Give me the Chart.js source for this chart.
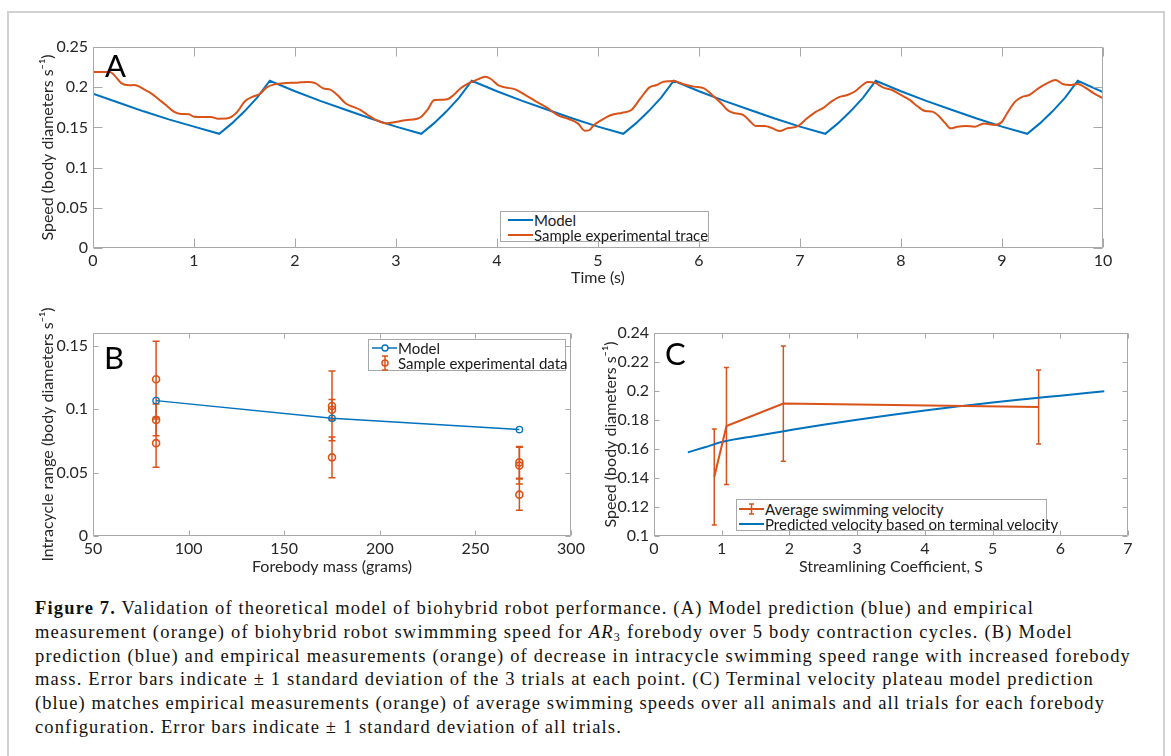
<!DOCTYPE html>
<html><head><meta charset="utf-8">
<script src="https://cdn.jsdelivr.net/npm/chart.js@4.4.1/dist/chart.umd.min.js"></script>
<style>
body{margin:0;width:1171px;height:756px;background:#fff;overflow:hidden;position:relative;font-family:Lato,"Open Sans",sans-serif;}
#frame{position:absolute;left:7px;top:11px;width:1158px;height:800px;border:2px solid #d2d2d2;box-sizing:border-box}
.cw{position:absolute}
.cw canvas{display:block}
.panel{position:absolute;font-size:31px;line-height:31px;color:#000;font-family:Lato,sans-serif}
.legend{position:absolute;border:1px solid #a8a8a8;background:#fff;font-size:15px;color:#1a1a1a;box-sizing:border-box}
.legend .row{position:absolute;left:0;height:16px;line-height:16px;white-space:nowrap}
.legend svg{position:absolute;top:0}
.legend span{position:absolute;top:0}
.caption{position:absolute;left:35px;top:597px;font-family:"Liberation Serif",serif;font-size:18.5px;line-height:23.8px;color:#111}
.caption div{white-space:nowrap}
.caption .ln{display:inline-block}
.sub3{font-size:0.65em;position:relative;top:0.25em;line-height:0}
</style>
</head><body>
<div id="frame"></div>

<div class="cw" style="left:0;top:0"><canvas id="cA" width="1171" height="295"></canvas></div>
<div class="cw" style="left:0;top:300px"><canvas id="cB" width="600" height="290"></canvas></div>
<div class="cw" style="left:600px;top:300px"><canvas id="cC" width="571" height="290"></canvas></div>

<div class="panel" style="left:105px;top:50px">A</div>
<div class="panel" style="left:104px;top:342px">B</div>
<div class="panel" style="left:665px;top:338px">C</div>

<div class="legend" style="left:500px;top:211px;width:209px;height:31px">
  <div class="row" style="top:0"><svg style="left:6px" width="27" height="16"><line x1="1" y1="8" x2="26" y2="8" stroke="#0072BD" stroke-width="2"/></svg><span style="left:33px">Model</span></div>
  <div class="row" style="top:14.5px"><svg style="left:6px" width="27" height="16"><line x1="1" y1="8" x2="26" y2="8" stroke="#D95319" stroke-width="2"/></svg><span style="left:33px">Sample experimental trace</span></div>
</div>

<div class="legend" style="left:368px;top:339px;width:198px;height:32px">
  <div class="row" style="top:0"><svg style="left:2px" width="27" height="16"><line x1="1" y1="8" x2="26" y2="8" stroke="#0072BD" stroke-width="1.5"/><circle cx="14" cy="8" r="3" fill="#fff" stroke="#0072BD" stroke-width="1.3"/></svg><span style="left:29px">Model</span></div>
  <div class="row" style="top:14.5px"><svg style="left:2px" width="27" height="16"><line x1="14" y1="1" x2="14" y2="15" stroke="#D95319" stroke-width="1.5"/><line x1="11" y1="1" x2="17" y2="1" stroke="#D95319" stroke-width="1.5"/><line x1="11" y1="15" x2="17" y2="15" stroke="#D95319" stroke-width="1.5"/><circle cx="14" cy="8" r="3" fill="none" stroke="#D95319" stroke-width="1.5"/></svg><span style="left:29px">Sample experimental data</span></div>
</div>

<div class="legend" style="left:736px;top:499px;width:311px;height:32px">
  <div class="row" style="top:1px"><svg style="left:1px" width="27" height="16"><line x1="1" y1="8" x2="26" y2="8" stroke="#D95319" stroke-width="2"/><line x1="13.5" y1="3" x2="13.5" y2="13" stroke="#D95319" stroke-width="1.5"/><line x1="11" y1="3" x2="16" y2="3" stroke="#D95319" stroke-width="1.5"/><line x1="11" y1="13" x2="16" y2="13" stroke="#D95319" stroke-width="1.5"/></svg><span style="left:28px">Average swimming velocity</span></div>
  <div class="row" style="top:15.5px"><svg style="left:1px" width="27" height="16"><line x1="1" y1="8" x2="26" y2="8" stroke="#0072BD" stroke-width="2"/></svg><span style="left:28px">Predicted velocity based on terminal velocity</span></div>
</div>

<div class="caption">
<div><span class="ln" data-w="999"><b>Figure 7.</b> Validation of theoretical model of biohybrid robot performance. (A) Model prediction (blue) and empirical</span></div>
<div><span class="ln" data-w="1038">measurement (orange) of biohybrid robot swimmming speed for <i>AR</i><span class="sub3">3</span> forebody over 5 body contraction cycles. (B) Model</span></div>
<div><span class="ln" data-w="1096">prediction (blue) and empirical measurements (orange) of decrease in intracycle swimming speed range with increased forebody</span></div>
<div><span class="ln" data-w="1059">mass. Error bars indicate ± 1 standard deviation of the 3 trials at each point. (C) Terminal velocity plateau model prediction</span></div>
<div><span class="ln" data-w="1070">(blue) matches empirical measurements (orange) of average swimming speeds over all animals and all trials for each forebody</span></div>
<div><span class="ln" data-w="587">configuration. Error bars indicate ± 1 standard deviation of all trials.</span></div>
</div>

<script>
// ---------------- DATA ----------------
// Panel A: model (sawtooth) and sample experimental trace
const tModelA = [0,0.25,0.5,0.75,1,1.25,1.375,1.5,1.625,1.75, 2,2.25,2.5,2.75,3,3.25,3.375,3.5,3.625,3.75, 4,4.25,4.5,4.75,5,5.25,5.375,5.5,5.625,5.75, 6,6.25,6.5,6.75,7,7.25,7.375,7.5,7.625,7.75, 8,8.25,8.5,8.75,9,9.25,9.375,9.5,9.625,9.75, 10];
const vModelA = [0.192,0.181,0.170,0.160,0.151,0.142,0.155,0.170,0.187,0.208, 0.195,0.183,0.172,0.161,0.151,0.142,0.155,0.170,0.187,0.208, 0.195,0.183,0.172,0.161,0.151,0.142,0.155,0.170,0.187,0.208, 0.195,0.183,0.172,0.161,0.151,0.142,0.155,0.170,0.187,0.208, 0.195,0.183,0.172,0.161,0.151,0.142,0.155,0.170,0.187,0.208, 0.194];
const tExpA = [0,0.17,0.21,0.28,0.36,0.41,0.51,0.58,0.65,0.73, 0.80,0.87,0.95,1.0,1.1,1.17,1.24,1.32,1.37,1.43, 1.50,1.58,1.65,1.72,1.80,1.91,2.02,2.13,2.20,2.28, 2.35,2.42,2.50,2.57,2.65,2.72,2.79,2.90,3.01,3.09, 3.2,3.25,3.31,3.38,3.46,3.51,3.57,3.64,3.73,3.81, 3.88,3.94,4.01,4.08,4.18,4.27,4.38,4.49,4.60,4.71, 4.80,4.87,4.91,4.96,5.02,5.13,5.24,5.33,5.42,5.51, 5.58,5.65,5.75,5.84,5.95,6.05,6.13,6.22,6.29,6.36, 6.44,6.51,6.56,6.65,6.73,6.80,6.87,6.98,7.07,7.16, 7.24,7.31,7.38,7.47,7.55,7.62,7.67,7.75,7.82,7.91, 8.0,8.09,8.16,8.24,8.31,8.38,8.44,8.49,8.56,8.64, 8.73,8.82,8.93,9.0,9.05,9.13,9.2,9.27,9.36,9.45, 9.53,9.6,9.67,9.75,9.82,9.91,10.0];
const vExpA = [0.219,0.219,0.215,0.205,0.2023,0.2027,0.197,0.192,0.185,0.177, 0.1696,0.1667,0.1664,0.1633,0.163,0.1628,0.1608,0.161,0.163,0.1696, 0.182,0.188,0.1915,0.1998,0.2036,0.2052,0.2056,0.2065,0.205,0.1986, 0.197,0.1903,0.18,0.1758,0.1716,0.1654,0.160,0.155,0.157,0.159, 0.1604,0.1633,0.1716,0.184,0.1845,0.185,0.1903,0.1986,0.2056,0.2098, 0.2131,0.2102,0.2027,0.1998,0.1973,0.1911,0.1828,0.175,0.1654,0.1604, 0.155,0.1459,0.1463,0.153,0.158,0.1654,0.1683,0.1716,0.1861,0.1998, 0.2027,0.2069,0.2077,0.204,0.2007,0.1986,0.1903,0.18,0.1708,0.1675, 0.1654,0.157,0.1517,0.1517,0.1488,0.1455,0.1488,0.1517,0.1613,0.1696, 0.175,0.182,0.1874,0.1903,0.1953,0.2027,0.2065,0.205,0.1998,0.1965, 0.1903,0.184,0.1766,0.1704,0.1696,0.1633,0.155,0.1488,0.1509,0.1517, 0.1509,0.155,0.153,0.157,0.1675,0.182,0.188,0.1903,0.1986,0.205, 0.209,0.204,0.2027,0.204,0.1998,0.1924,0.1861];
const xTicksA = [0,1,2,3,4,5,6,7,8,9,10];
const xTickLabelsA = ['0','1','2','3','4','5','6','7','8','9','10'];
const yTicksA = [0,0.05,0.1,0.15,0.2,0.25];
const yTickLabelsA = ['0','0.05','0.1','0.15','0.2','0.25'];

// Panel B: intracycle range vs forebody mass
const massModelB = [83,175,273];
const rangeModelB = [0.1067,0.0928,0.0839];
const massExpB = [83,83,83,175,175,175,273,273,273];
const rangeExpB = [0.1235,0.0915,0.0732, 0.1025,0.0995,0.0620, 0.0580,0.0555,0.0326];
const sdExpB = [0.030,0.0125,0.019, 0.0275,0.008,0.016, 0.0125,0.0145,0.0123];
const xTicksB = [50,100,150,200,250,300];
const xTickLabelsB = ['50','100','150','200','250','300'];
const yTicksB = [0,0.05,0.1,0.15];
const yTickLabelsB = ['0','0.05','0.1','0.15'];

// Panel C: speed vs streamlining coefficient
const sAvgC = [0.89,1.07,1.91,5.68];
const vAvgC = [0.1407,0.1759,0.1913,0.189];
const sdAvgC = [0.0331,0.0403,0.0398,0.0255];
const sPredC = [0.5,0.75,1,1.5,2,2.5,3,3.5,4,4.5,5,5.5,6,6.65];
const vPredC = [0.1577,0.1612,0.1648,0.1690,0.1729,0.1767,0.1802,0.1835,0.1866,0.1894,0.1921,0.1945,0.1968,0.1998];
const xTicksC = [0,1,2,3,4,5,6,7];
const xTickLabelsC = ['0','1','2','3','4','5','6','7'];
const yTicksC = [0.1,0.12,0.14,0.16,0.18,0.2,0.22,0.24];
const yTickLabelsC = ['0.1','0.12','0.14','0.16','0.18','0.2','0.22','0.24'];

// ---------------- STYLE ----------------
const BLUE = '#0072BD', ORANGE = '#D95319';
const FONT = 'Lato, "Open Sans", sans-serif';
const FS = 16;
const TXT = '#262626', BOX = '#a8a8a8';

const pts = (xs, ys) => xs.map((x,i)=>({x, y: ys[i]}));

const boxPlugin = {
  id:'mbox',
  afterDatasetsDraw(chart, args, opts){
    const {ctx, chartArea:a, scales:{x,y}} = chart;
    const L = opts.len || 5;
    ctx.save();
    ctx.strokeStyle = BOX; ctx.lineWidth = 1;
    const l = Math.round(a.left)+0.5, r = Math.round(a.right)-0.5, t = Math.round(a.top)+0.5, b = Math.round(a.bottom)-0.5;
    ctx.beginPath();
    ctx.rect(l,t,r-l,b-t);
    x.ticks.forEach(tk=>{ const p = Math.round(x.getPixelForValue(tk.value))+0.5; ctx.moveTo(p,b); ctx.lineTo(p,b-L); ctx.moveTo(p,t); ctx.lineTo(p,t+L); });
    y.ticks.forEach(tk=>{ const p = Math.round(y.getPixelForValue(tk.value))+0.5; ctx.moveTo(l,p); ctx.lineTo(l+L,p); ctx.moveTo(r,p); ctx.lineTo(r-L,p); });
    ctx.stroke(); ctx.restore();
  }
};

const errPlugin = {
  id:'errbars',
  beforeDatasetsDraw(chart){
    const {ctx, scales:{x,y}} = chart;
    chart.data.datasets.forEach(ds=>{
      if(!ds.errVals) return;
      ctx.save(); ctx.strokeStyle = ds.errColor; ctx.lineWidth = ds.errWidth;
      ds.data.forEach((p,i)=>{
        const e = ds.errVals[i];
        const px = x.getPixelForValue(p.x);
        const y1 = y.getPixelForValue(p.y+e), y2 = y.getPixelForValue(p.y-e);
        const c = ds.capHalf;
        ctx.beginPath();
        ctx.moveTo(px,y1); ctx.lineTo(px,y2);
        ctx.moveTo(px-c,y1); ctx.lineTo(px+c,y1);
        ctx.moveTo(px-c,y2); ctx.lineTo(px+c,y2);
        ctx.stroke();
      });
      ctx.restore();
    });
  }
};

function xAxis(min,max,ticks,labels,title,h){
  return {type:'linear',min,max,
    afterBuildTicks: s => { s.ticks = ticks.map(v=>({value:v})); },
    afterFit: s => { s.height = h; },
    grid:{display:false, drawTicks:false}, border:{display:false},
    ticks:{color:TXT,font:{family:FONT,size:FS},padding:3,maxRotation:0,autoSkip:false,
      callback:(v,i)=>labels[i]},
    title:{display:true,text:title,color:TXT,font:{family:FONT,size:FS},padding:0}
  };
}
function yAxis(min,max,ticks,labels,title,w){
  return {type:'linear',min,max,
    afterBuildTicks: s => { s.ticks = ticks.map(v=>({value:v})); },
    afterFit: s => { s.width = w; },
    grid:{display:false, drawTicks:false}, border:{display:false},
    ticks:{color:TXT,font:{family:FONT,size:FS},padding:5,autoSkip:false,
      callback:(v,i)=>labels[i]},
    title:{display:true,text:title,color:TXT,font:{family:FONT,size:FS},padding:0}
  };
}
const basePlugins = (len) => ({legend:{display:false},tooltip:{enabled:false},mbox:{len}});

// Panel A
new Chart(document.getElementById('cA'), {
  type:'line',
  data:{datasets:[
    {data:pts(tExpA,vExpA), borderColor:ORANGE, borderWidth:2, pointRadius:0, tension:0.4, cubicInterpolationMode:'monotone', fill:false},
    {data:pts(tModelA,vModelA), borderColor:BLUE, borderWidth:2, pointRadius:0, tension:0, fill:false}
  ]},
  options:{responsive:false, animation:false, events:[],
    layout:{padding:{left:38,right:68,top:47,bottom:8}},
    scales:{
      x:xAxis(0,10,xTicksA,xTickLabelsA,'Time (s)',39),
      y:yAxis(0,0.25,yTicksA,yTickLabelsA,'Speed (body diameters s⁻¹)',55)
    },
    plugins:basePlugins(9)
  },
  plugins:[boxPlugin]
});

// Panel B
new Chart(document.getElementById('cB'), {
  type:'line',
  data:{datasets:[
    {data:pts(massModelB,rangeModelB), borderColor:BLUE, borderWidth:1.5, pointRadius:3.2, pointBorderWidth:1.3, pointBorderColor:BLUE, pointBackgroundColor:'rgba(255,255,255,0)', tension:0, fill:false},
    {data:pts(massExpB,rangeExpB), showLine:false, pointRadius:3.5, pointBorderWidth:1.6, pointBorderColor:ORANGE, pointBackgroundColor:'rgba(255,255,255,0)',
     errVals:sdExpB, errColor:ORANGE, errWidth:1.5, capHalf:3.5}
  ]},
  options:{responsive:false, animation:false, events:[],
    layout:{padding:{left:38,right:29,top:33,bottom:14}},
    scales:{
      x:xAxis(50,300,xTicksB,xTickLabelsB,'Forebody mass (grams)',40),
      y:yAxis(0,0.16,yTicksB,yTickLabelsB,'Intracycle range (body diameters s⁻¹)',55)
    },
    plugins:basePlugins(5)
  },
  plugins:[errPlugin, boxPlugin]
});

// Panel C
new Chart(document.getElementById('cC'), {
  type:'line',
  data:{datasets:[
    {data:pts(sAvgC,vAvgC), borderColor:ORANGE, borderWidth:2, pointRadius:0, tension:0, fill:false,
     errVals:sdAvgC, errColor:ORANGE, errWidth:1.5, capHalf:2.5},
    {data:pts(sPredC,vPredC), borderColor:BLUE, borderWidth:2, pointRadius:0, tension:0.3, cubicInterpolationMode:'monotone', fill:false}
  ]},
  options:{responsive:false, animation:false, events:[],
    layout:{padding:{left:1,right:43,top:33,bottom:14}},
    scales:{
      x:xAxis(0,7,xTicksC,xTickLabelsC,'Streamlining Coefficient, S',40),
      y:yAxis(0.1,0.24,yTicksC,yTickLabelsC,'Speed (body diameters s⁻¹)',53)
    },
    plugins:basePlugins(5)
  },
  plugins:[errPlugin, boxPlugin]
});

// caption line fitting (letter-spacing so each line spans the reference width)
function fitCaption(){
  document.querySelectorAll('.caption .ln').forEach(el=>{
    el.style.letterSpacing = '0px';
    const target = +el.dataset.w;
    const w = el.getBoundingClientRect().width;
    const n = el.textContent.length;
    el.style.letterSpacing = ((target - w)/n).toFixed(3)+'px';
  });
}
if (document.fonts && document.fonts.ready) document.fonts.ready.then(fitCaption); else fitCaption();
fitCaption();
</script>
</body></html>
